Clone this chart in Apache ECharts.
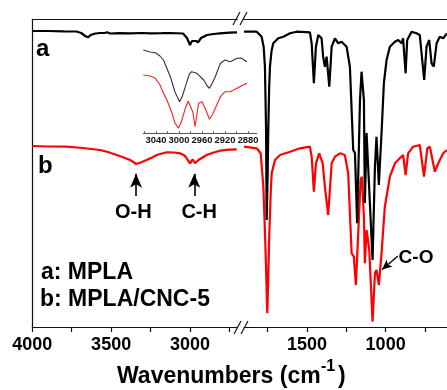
<!DOCTYPE html>
<html>
<head>
<meta charset="utf-8">
<script src="https://cdn.jsdelivr.net/npm/echarts@6/dist/echarts.min.js"></script>
<style>html,body{margin:0;padding:0;background:#fff;}#c{width:447px;height:390px;}</style>
</head>
<body>
<div id="c"></div>
<script>
// ---- data (wavenumber cm-1, relative transmittance in arbitrary units) ----
const aLeft = [[4000,296],[3900,296],[3800,295.7],[3720,295.5],[3690,294],[3665,291],[3647,289.7],[3630,292],[3600,293.5],[3571,294],[3540,294],[3526,294.7],[3507,293.5],[3450,293.8],[3380,293.7],[3300,294],[3254,293.7],[3180,293.8],[3127,294],[3044,293.5],[3019,289],[3000,282],[2987,286],[2975,288],[2962,286],[2949,284.7],[2930,289],[2892,292],[2850,293],[2810,293.7],[2750,294.3],[2702,294.7]];
const bLeft = [[4000,181],[3900,180.5],[3782,180.3],[3680,179],[3571,177],[3520,175],[3465,172],[3420,169.5],[3380,167],[3355,164.5],[3342,163],[3317,164.3],[3275,167],[3240,169.5],[3211,172],[3148,174.7],[3100,174.5],[3063,173.7],[3035,171.5],[3021,168.7],[3000,163.7],[2983,167.7],[2968,163.7],[2947,167],[2920,169.5],[2894,172],[2850,174.5],[2810,176.3],[2750,177.3],[2704,177.7]];
const aRight = [[1900,295.3],[1819,295.3],[1788,290.3],[1775,280],[1767,260.3],[1760,200],[1756,107],[1750,150],[1746,194],[1740,240],[1735,260.3],[1725,276],[1714,283.7],[1682,288.7],[1650,290.3],[1608,293.7],[1565,295.3],[1481,294.7],[1470,283.7],[1456,243.7],[1443,280.3],[1428,292],[1407,288.7],[1397,270.3],[1386,260.3],[1375,270.3],[1358,240.3],[1343,280.3],[1322,288.7],[1301,283.7],[1280,285.3],[1248,280.3],[1227,260.3],[1206,177],[1195,174],[1181,103.7],[1163,227],[1153,255.3],[1138,227],[1132,124],[1121,194],[1111,160.3],[1083,67],[1068,160.3],[1058,190.3],[1043,142],[1026,194],[1011,244],[994,267],[973,280.3],[941,285.3],[920,287],[899,283.7],[889,288.7],[873,253.7],[863,287],[835,295.3],[804,293.7],[783,292],[755,247],[740,280.3],[723,287],[708,263.7],[694,260.3],[676,283.7],[656,290.3],[634,288.7],[611,293.7]];
const bRight = [[1900,180.3],[1819,178.7],[1794,173.7],[1777,140.3],[1768,100],[1760,60.3],[1752,13.7],[1746,50],[1739,94],[1730,135],[1724,153.7],[1703,167],[1671,172],[1608,175.3],[1544,178.7],[1481,180.3],[1470,170.3],[1456,135.3],[1443,163.7],[1422,173.7],[1400,163.7],[1386,140.3],[1365,112],[1343,163.7],[1322,170.3],[1290,173.7],[1259,172],[1238,153.7],[1216,73.7],[1202,70.3],[1189,42],[1174,94],[1159,147],[1151,150.3],[1138,110.3],[1132,63.7],[1121,97],[1104,77],[1083,5.3],[1068,53.7],[1058,57],[1043,42],[1026,73.7],[1005,120.3],[973,150.3],[941,163.7],[910,168.7],[889,172],[873,152],[857,173.7],[825,180.3],[783,182],[756,150.3],[735,178.7],[719,180.3],[702,167],[687,155.3],[666,163.7],[634,173.7],[611,177]];
const insetA = [[3062,83.3],[3055,82],[3050,81.3],[3041,80.6],[3033,77.3],[3027,73.3],[3015,56.6],[3007,41.3],[2999,31.6],[2994,37.3],[2989,46.6],[2982,59.3],[2978,61.6],[2969,60],[2957,53.3],[2951,47.3],[2947,45],[2942,50.3],[2937,56.6],[2928,70],[2920,73.3],[2911,71.6],[2899,75],[2892,75.3],[2882,71.6]];
const insetB = [[3062,58.3],[3050,57.3],[3041,55],[3033,48.3],[3027,40],[3021,33.3],[3012,20],[3007,10.3],[3001,5],[2996,11.3],[2989,25],[2984,32.3],[2981,33.3],[2976,21.3],[2972,6.6],[2969,18.3],[2966,30],[2960,31.6],[2954,24.3],[2947,14],[2942,18.3],[2937,25],[2928,36.6],[2920,41.6],[2911,41.6],[2899,45],[2892,47.3],[2882,50]];
const leftTicks = [4000,3750,3500,3250,3000,2750];
const leftLabels = [4000,3500,3000];
const rightTicks = [1750,1500,1250,1000,750];
const rightLabels = [1500,1000];
const insetTicks = [3060,3040,3020,3000,2980,2960,2940,2920,2900,2880];
const insetLabels = [3040,3000,2960,2920,2880];
const bandOH = 3342, bandCH = 2973;

const FF = "'Liberation Sans', Arial, Helvetica, sans-serif";
const chart = echarts.init(document.getElementById('c'), null, {renderer:'canvas'});
const axLine = {show:true, lineStyle:{color:'#111', width:1.2}};
const noSplit = {show:false};
const plain = function(v){ return String(v); };
function txt(text, x, y, size, align){
  return {type:'text', silent:true, style:{text:text, x:x, y:y, fill:'#000', font:'bold '+size+'px '+FF, align:align||'left', verticalAlign:'middle'}};
}
function seg(x1,y1,x2,y2){
  return {type:'line', silent:true, shape:{x1:x1,y1:y1,x2:x2,y2:y2}, style:{stroke:'#111', lineWidth:1.2}};
}
const option = {
  animation:false,
  backgroundColor:'#fff',
  grid:[
    {left:32.3, top:19, width:205, height:308, containLabel:false},
    {left:244, top:19, width:203.2, height:308, containLabel:false},
    {left:143.3, top:33.3, width:113.4, height:100, containLabel:false}
  ],
  xAxis:[
    {gridIndex:0, type:'value', min:2700, max:4000, inverse:true, position:'bottom', axisLine:axLine,
     axisTick:{show:true, customValues:leftTicks, length:5, lineStyle:{color:'#111', width:1.2}},
     axisLabel:{customValues:leftLabels, formatter:plain, fontSize:18, fontWeight:'bold', fontFamily:FF, color:'#000', margin:9},
     splitLine:noSplit},
    {gridIndex:1, type:'value', min:610, max:1900, inverse:true, position:'bottom', axisLine:axLine,
     axisTick:{show:true, customValues:rightTicks, length:5, lineStyle:{color:'#111', width:1.2}},
     axisLabel:{customValues:rightLabels, formatter:plain, fontSize:18, fontWeight:'bold', fontFamily:FF, color:'#000', margin:9},
     splitLine:noSplit},
    {gridIndex:0, type:'value', min:2700, max:4000, inverse:true, position:'top', axisLine:axLine,
     axisTick:{show:false}, axisLabel:{show:false}, splitLine:noSplit},
    {gridIndex:1, type:'value', min:610, max:1900, inverse:true, position:'top', axisLine:axLine,
     axisTick:{show:false}, axisLabel:{show:false}, splitLine:noSplit},
    {gridIndex:2, type:'value', min:2865, max:3062, inverse:true, position:'bottom',
     axisLine:{show:true, lineStyle:{color:'#555', width:1}},
     axisTick:{show:true, inside:true, customValues:insetTicks, length:2, lineStyle:{color:'#555', width:1}},
     axisLabel:{customValues:insetLabels, formatter:plain, hideOverlap:false, fontSize:9.4, fontWeight:'bold', fontFamily:FF, color:'#111', margin:3},
     splitLine:noSplit}
  ],
  yAxis:[
    {gridIndex:0, type:'value', min:0, max:308, axisLine:axLine, axisTick:{show:false}, axisLabel:{show:false}, splitLine:noSplit},
    {gridIndex:1, type:'value', min:0, max:308, show:false, splitLine:noSplit},
    {gridIndex:2, type:'value', min:0, max:100, show:false, splitLine:noSplit}
  ],
  series:[
    {name:'b-left', type:'line', xAxisIndex:0, yAxisIndex:0, data:bLeft, showSymbol:false, symbol:'none',
     lineStyle:{color:'#ff0000', width:2.2}, z:2,
     markLine:{silent:true, symbol:['none','arrow'], symbolSize:[9,14], label:{show:false},
       lineStyle:{color:'#000', width:1.6, type:'solid'}, emphasis:{disabled:true},
       data:[
         [{coord:[bandOH,131]},{coord:[bandOH,153.3]}],
         [{coord:[bandCH,131]},{coord:[bandCH,153.3]}]
       ]}},
    {name:'a-left', type:'line', xAxisIndex:0, yAxisIndex:0, data:aLeft, showSymbol:false, symbol:'none',
     lineStyle:{color:'#000', width:2.2}, z:3},
    {name:'b-right', type:'line', xAxisIndex:1, yAxisIndex:1, data:bRight, showSymbol:false, symbol:'none',
     lineStyle:{color:'#ff0000', width:2.2}, z:2,
     markLine:{silent:true, symbol:['none','arrow'], symbolSize:[7,10], label:{show:false},
       lineStyle:{color:'#000', width:1.3, type:'solid'}, emphasis:{disabled:true},
       data:[
         [{coord:[922,71]},{coord:[1022.5,57.5]}]
       ]}},
    {name:'a-right', type:'line', xAxisIndex:1, yAxisIndex:1, data:aRight, showSymbol:false, symbol:'none',
     lineStyle:{color:'#000', width:2.2}, z:3},
    {name:'inset-a', type:'line', xAxisIndex:4, yAxisIndex:2, data:insetA, showSymbol:false, symbol:'none',
     lineStyle:{color:'#333', width:1.1}, z:4},
    {name:'inset-b', type:'line', xAxisIndex:4, yAxisIndex:2, data:insetB, showSymbol:false, symbol:'none',
     lineStyle:{color:'#ff2020', width:1.1}, z:4}
  ],
  graphic:[
    txt('a', 36, 49.6, 24),
    txt('b', 38, 165.9, 24),
    txt('O-H', 133.3, 212.1, 20, 'center'),
    txt('C-H', 199.2, 212.1, 20, 'center'),
    txt('C-O', 416, 257.6, 19, 'center'),
    txt('a: MPLA', 41, 272.9, 23),
    txt('b: MPLA/CNC-5', 40, 299.4, 23),
    txt('Wavenumbers (cm', 117, 376.2, 23),
    txt('-1', 321, 367, 16),
    txt(')', 338, 376.2, 23),
    seg(233,25,240,12), seg(240,25,247,12),
    seg(234,334,241,321), seg(241,334,248,321)
  ]
};
chart.setOption(option);
</script>
</body>
</html>
